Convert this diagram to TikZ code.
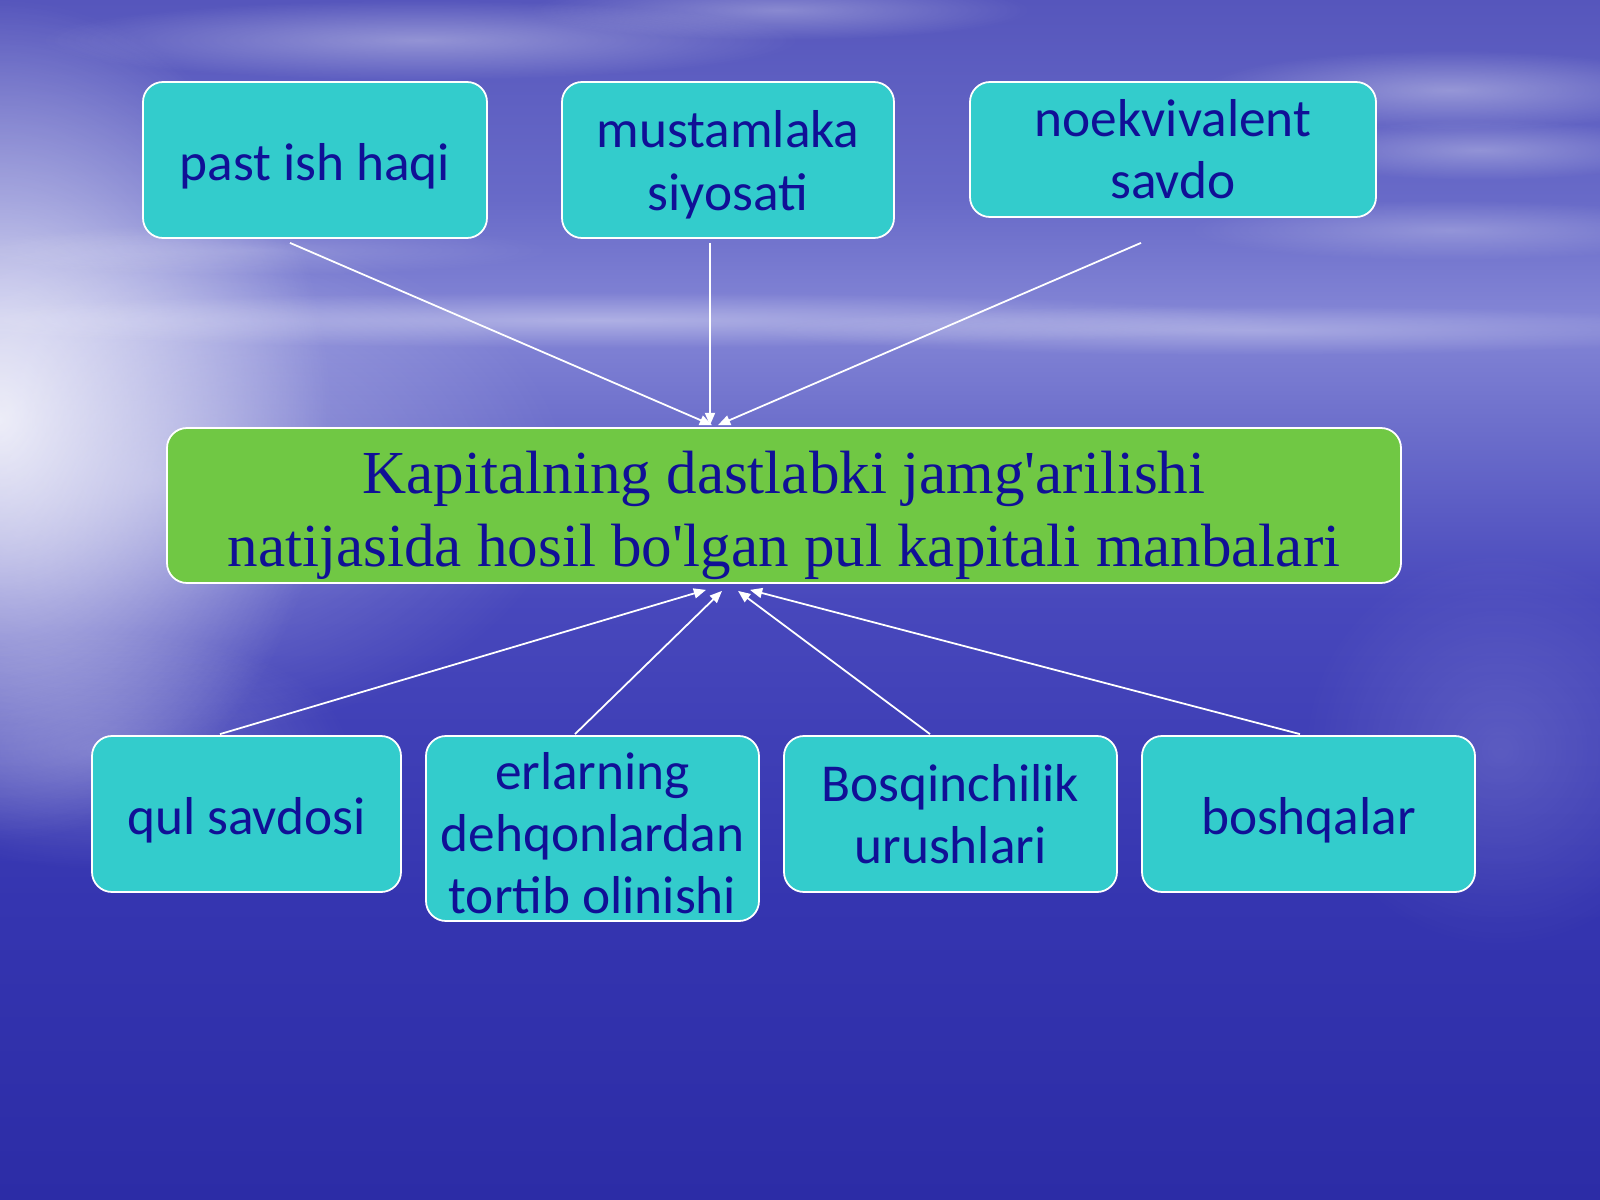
\documentclass[tikz,border=0pt]{standalone}
\usepackage{fontspec}
\setmainfont{Liberation Serif}
\newfontfamily\boxfont{Carlito}
\usetikzlibrary{arrows.meta,calc,fadings}
\tikzfading[name=softglow, inner color=transparent!0, outer color=transparent!100]
\definecolor{txtblue}{RGB}{16,16,150}
\definecolor{boxcyan}{RGB}{51,204,204}
\definecolor{boxgreen}{RGB}{112,200,68}
\definecolor{bgA}{RGB}{44,44,166}
\definecolor{bgB}{RGB}{53,53,176}
\definecolor{bgC}{RGB}{72,72,188}
\definecolor{bgD}{RGB}{110,112,204}
\definecolor{bgE}{RGB}{132,134,214}
\definecolor{bgF}{RGB}{104,106,200}
\definecolor{bgG}{RGB}{86,86,188}
\pgfdeclareverticalshading{bgsh}{100bp}{color(0bp)=(bgA); color(25bp)=(bgA); color(37.5bp)=(bgB); color(50bp)=(bgC); color(57.5bp)=(bgD); color(61.7bp)=(bgE); color(66.7bp)=(bgF); color(75bp)=(bgG); color(100bp)=(bgG)}
\newcommand{\padtop}[1]{\rule{0pt}{#1}}
\tikzset{
  srcbox/.style={rectangle, rounded corners=9pt, draw=white, line width=0.8pt, fill=boxcyan, text=txtblue, font=\boxfont\fontsize{24}{28}\selectfont, align=center, inner sep=0pt},
  mainbox/.style={rectangle, rounded corners=9pt, draw=white, line width=0.8pt, fill=boxgreen, text=txtblue, font=\fontsize{27.5}{33}\selectfont, align=center, inner sep=0pt},
  arr/.style={draw=white, line width=0.8pt, -{Triangle[length=5.5pt,width=4.5pt]}},
  cloud/.style={fill=white, path fading=softglow}
}
\begin{document}
\begin{tikzpicture}[x=0.45pt,y=-0.45pt]
\useasboundingbox (0,0) rectangle (1600,1200);
% background
\shade[shading=bgsh] (0,0) rectangle (1600,1200);
\begin{scope}
\clip (0,0) rectangle (1600,1200);
\fill[cloud, opacity=0.85] (0,420) ellipse (330 and 420);
\fill[cloud, opacity=0.35] (150,480) ellipse (420 and 260);
\fill[cloud, opacity=0.35] (420,40) ellipse (380 and 40);
\fill[cloud, opacity=0.30] (780,10) ellipse (250 and 30);
\fill[cloud, opacity=0.35] (600,320) ellipse (700 and 28);
\fill[cloud, opacity=0.30] (1250,330) ellipse (500 and 25);
\fill[cloud, opacity=0.35] (1450,90) ellipse (250 and 40);
\fill[cloud, opacity=0.30] (1480,150) ellipse (200 and 30);
\fill[cloud, opacity=0.25] (1450,230) ellipse (260 and 30);
\fill[cloud, opacity=0.20] (250,250) ellipse (300 and 25);
\fill[cloud, opacity=0.25] (100,750) ellipse (250 and 120);
\fill[cloud, opacity=0.15] (1500,750) ellipse (200 and 200);
\end{scope}
% source boxes (top)
\node[srcbox, minimum width=344*0.45pt, minimum height=156*0.45pt] (past) at (315,160) {\padtop{22pt}past ish haqi};
\node[srcbox, minimum width=332*0.45pt, minimum height=156*0.45pt] (must) at (728,160) {\padtop{21pt}mustamlaka\\siyosati};
\node[srcbox, minimum width=406*0.45pt, minimum height=135*0.45pt] (noek) at (1173,149.5) {noekvivalent\\savdo};
% main box
\node[mainbox, minimum width=1234*0.45pt, minimum height=155*0.45pt] (main) at (784,505.5) {\padtop{28pt}Kapitalning dastlabki jamg\textquotesingle arilishi\\natijasida hosil bo\textquotesingle lgan pul kapitali manbalari};
% source boxes (bottom)
\node[srcbox, minimum width=309*0.45pt, minimum height=156*0.45pt] (qul) at (246.5,814) {\padtop{22pt}qul savdosi};
\node[srcbox, minimum width=333*0.45pt, minimum height=185*0.45pt] (erl) at (592.5,828.5) {\padtop{21pt}erlarning\\dehqonlardan\\tortib olinishi};
\node[srcbox, minimum width=333*0.45pt, minimum height=156*0.45pt] (bosq) at (950.5,814) {Bosqinchilik\\urushlari};
\node[srcbox, minimum width=333*0.45pt, minimum height=156*0.45pt] (bosh) at (1308.5,814) {\padtop{22pt}boshqalar};
% connectors
\draw[arr] ($(past.south)+(-25,4)$) -- ($(main.north)+(-72,-2)$);
\draw[arr] ($(must.south)+(-18,4)$) -- ($(main.north)+(-74,-2)$);
\draw[arr] ($(noek.south)+(-32,25)$) -- ($(main.north)+(-66,-2)$);
\draw[arr] ($(qul.north)+(-26.5,-1)$) -- ($(main.south)+(-78,6)$);
\draw[arr] ($(erl.north)+(-17.5,-1)$) -- ($(main.south)+(-62,7)$);
\draw[arr] ($(bosq.north)+(-20.5,-1)$) -- ($(main.south)+(-46,7)$);
\draw[arr] ($(bosh.north)+(-8.5,-1)$) -- ($(main.south)+(-34,6)$);
\end{tikzpicture}
\end{document}
